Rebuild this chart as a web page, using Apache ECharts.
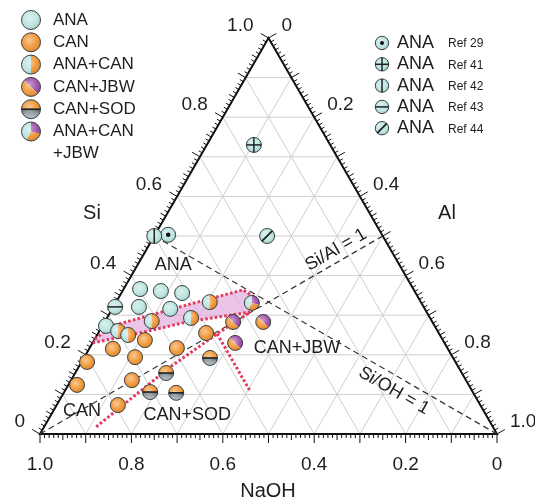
<!DOCTYPE html>
<html>
<head>
<meta charset="utf-8">
<script src="https://cdn.jsdelivr.net/npm/echarts@6/dist/echarts.min.js"></script>
<style>
html,body{margin:0;padding:0;background:#fff;}
#chart{width:535px;height:501px;}
</style>
</head>
<body>
<div id="chart"></div>
<script>
// Compositions are [Si, Al, NaOH] molar fractions.
const anaPts = [[0.366,0.036,0.598],[0.361,0.084,0.555],[0.356,0.133,0.511],[0.321,0.056,0.623],[0.316,0.127,0.557],[0.273,0.008,0.719]];
const canPts = [[0.237,0.111,0.652],[0.215,0.052,0.733],[0.194,0.111,0.695],[0.217,0.191,0.592],[0.182,0.012,0.806],[0.136,0.133,0.731],[0.124,0.019,0.857],[0.073,0.134,0.793],[0.255,0.236,0.509]];
const anaCanPts = [[0.260,0.041,0.699],[0.250,0.068,0.682],[0.285,0.102,0.613],[0.293,0.184,0.523],[0.333,0.205,0.462]];
const canJbwPts = [[0.283,0.281,0.436],[0.283,0.347,0.370],[0.230,0.312,0.458]];
const canSodPts = [[0.154,0.199,0.647],[0.106,0.188,0.706],[0.104,0.246,0.650],[0.192,0.276,0.532]];
const anaCanJbwPts = [[0.331,0.298,0.371]];
const ref29Pts = [[0.503,0.029,0.468]];
const ref41Pts = [[0.730,0.103,0.167]];
const ref42Pts = [[0.500,0.000,0.500]];
const ref43Pts = [[0.321,0.004,0.675]];
const ref44Pts = [[0.500,0.247,0.253]];

// Reference ratio lines
const siAlLine = [[0,0,1],[0.5,0.5,0]];
const siOhLine = [[0.5,0,0.5],[0,1,0]];

// Phase boundaries
const anaCanUpper = [[0.240,0,0.760],[0.273,0.021,0.706],[0.326,0.159,0.515],[0.364,0.262,0.374],[0.343,0.301,0.356]];
const anaCanLower = [[0.230,0,0.770],[0.255,0.091,0.654],[0.283,0.180,0.537],[0.308,0.306,0.386]];
const canSodLine = [[0.018,0.114,0.868],[0.169,0.200,0.631],[0.258,0.265,0.477],[0.308,0.306,0.386]];
const sodJbwLine = [[0.253,0.261,0.486],[0.111,0.403,0.486]];

// Axis tick labels
const tickValues = [0,0.2,0.4,0.6,0.8,1.0];
const tickLabels = ['0','0.2','0.4','0.6','0.8','1.0'];

// Legends
const legendKinds = ['ana','can','anacan','canjbw','cansod','anacanjbw'];
const legendNames = ['ANA','CAN','ANA+CAN','CAN+JBW','CAN+SOD','ANA+CAN'];
const refKinds = ['ref29','ref41','ref42','ref43','ref44'];
const refNames = ['Ref 29','Ref 41','Ref 42','Ref 43','Ref 44'];

// Region labels: [text, composition, rotation]
const regionLabels = [
  ['ANA', [0.427,0.078,0.495], 0],
  ['CAN', [0.058,0.063,0.879], 0],
  ['CAN+SOD', [0.048,0.298,0.654], 0],
  ['CAN+JBW', [0.217,0.454,0.329], 0],
  ['Si/Al = 1', [0.465,0.415,0.120], Math.PI/6],
  ['Si/OH = 1', [0.109,0.720,0.171], -Math.PI/6]
];

const FONT = '"Liberation Sans", Arial, Helvetica, sans-serif';
const H = Math.sqrt(3) / 2;
const tern = p => [p[1] + p[0] / 2, p[0] * H];

const COL = { ana:'#b9e3de', can:'#f1922d', jbw:'#9b48a8' };
const KINDS = ['ana','can','anacan','canjbw','cansod','anacanjbw','ref29','ref41','ref42','ref43','ref44'];

function marker(kind, cx, cy, r) {
  const P = Math.PI;
  const els = [];
  const sec = (a0, a1, fill) => ({type:'sector', shape:{cx, cy, r, r0:0, startAngle:a0, endAngle:a1, clockwise:true}, style:{fill}});
  const ln = (x1, y1, x2, y2, w) => ({type:'line', shape:{x1, y1, x2, y2}, style:{stroke:'#1d2224', lineWidth:w || 1.5}});
  if (kind === 'can') {
    els.push({type:'circle', shape:{cx, cy, r}, style:{fill:COL.can}});
  } else if (kind === 'anacan') {
    els.push(sec(P/2, 3*P/2, COL.ana), sec(-P/2, P/2, COL.can));
  } else if (kind === 'canjbw') {
    els.push(sec(-3*P/4, P/4, COL.jbw), sec(P/4, 5*P/4, COL.can));
  } else if (kind === 'cansod') {
    els.push(sec(P, 2*P, COL.can));
    els.push(sec(0, P, {type:'linear', x:0, y:0, x2:0, y2:1, colorStops:[
      {offset:0, color:'#4f565a'}, {offset:0.4, color:'#8f989d'}, {offset:1, color:'#c9d3d8'}]}));
  } else if (kind === 'anacanjbw') {
    els.push(sec(-P/2, P/12, COL.jbw), sec(P/12, 2*P/3, COL.can), sec(2*P/3, 3*P/2, COL.ana));
  } else {
    els.push({type:'circle', shape:{cx, cy, r}, style:{fill:COL.ana}});
  }
  // shading and outline
  els.push({type:'circle', shape:{cx, cy, r}, style:{
    fill:{type:'radial', x:0.42, y:0.4, r:0.62, colorStops:[
      {offset:0, color:'rgba(255,255,255,0.5)'}, {offset:0.6, color:'rgba(255,255,255,0.08)'}, {offset:1, color:'rgba(0,0,0,0.14)'}]},
    stroke:'#3a4244', lineWidth:1}});
  if (kind === 'cansod') els.push(ln(cx - r, cy, cx + r, cy, 1.6));
  if (kind === 'ref29') els.push({type:'circle', shape:{cx, cy, r:r*0.3}, style:{fill:'#111'}});
  if (kind === 'ref41') els.push(ln(cx - r, cy, cx + r, cy), ln(cx, cy - r, cx, cy + r));
  if (kind === 'ref42') els.push(ln(cx, cy - r, cx, cy + r));
  if (kind === 'ref43') els.push(ln(cx - r, cy, cx + r, cy));
  if (kind === 'ref44') { const d = r * 0.72; els.push(ln(cx - d, cy + d, cx + d, cy - d, 1.8)); }
  return els;
}

function txt(text, x, y, size, align, opts) {
  return Object.assign({type:'text', x, y, style:{text, fill:'#1e1e1e', fontSize:size, fontFamily:FONT,
    align:align || 'center', verticalAlign:'middle', textAlign:align || 'center', textVerticalAlign:'middle'}}, opts || {});
}

const pointData = [];
[[anaPts,'ana'],[canPts,'can'],[anaCanPts,'anacan'],[canJbwPts,'canjbw'],[canSodPts,'cansod'],[anaCanJbwPts,'anacanjbw'],
 [ref29Pts,'ref29'],[ref41Pts,'ref41'],[ref42Pts,'ref42'],[ref43Pts,'ref43'],[ref44Pts,'ref44']]
  .forEach(([arr, k]) => arr.forEach(p => pointData.push(tern(p).concat([KINDS.indexOf(k)]))));

// Triangle frame, grid, ticks and tick labels
function renderFrame(params, api) {
  const c = p => api.coord(tern(p));
  const kids = [];
  for (let i = 1; i < 10; i++) {
    const v = i / 10;
    const segs = [[[v,0,1-v],[v,1-v,0]], [[0,v,1-v],[1-v,v,0]], [[0,1-v,v],[1-v,0,v]]];
    segs.forEach(s => { const a = c(s[0]), b = c(s[1]);
      kids.push({type:'line', shape:{x1:a[0], y1:a[1], x2:b[0], y2:b[1]}, style:{stroke:'#cfcfcf', lineWidth:1}}); });
  }
  const A = c([0,0,1]), B = c([0,1,0]), C = c([1,0,0]);
  kids.push({type:'polygon', shape:{points:[A,B,C]}, style:{fill:null, stroke:'#111', lineWidth:2}});
  const axes = [
    {pt: v => c([v, 0, 1-v]), n:[-0.866,-0.5]},
    {pt: v => c([1-v, v, 0]), n:[0.866,-0.5]},
    {pt: v => c([0, 1-v, v]), n:[0,1]}
  ];
  axes.forEach(ax => {
    for (let i = 0; i <= 100; i++) {
      const p = ax.pt(i / 100);
      const L = i % 10 === 0 ? 9 : (i % 5 === 0 ? 6 : 4);
      kids.push({type:'line', shape:{x1:p[0], y1:p[1], x2:p[0] + ax.n[0]*L, y2:p[1] + ax.n[1]*L}, style:{stroke:'#111', lineWidth:1}});
    }
  });
  tickValues.forEach((v, i) => {
    const pl = axes[0].pt(v), pr = axes[1].pt(v), pb = axes[2].pt(v);
    kids.push(txt(tickLabels[i], pl[0] - 15, pl[1] - 12, 19, 'right'));
    kids.push(txt(tickLabels[i], pr[0] + 13, pr[1] - 12, 19, 'left'));
    kids.push(txt(tickLabels[i], pb[0], pb[1] + 31, 19, 'center'));
  });
  return {type:'group', children:kids};
}

function renderBand(params, api) {
  const pts = anaCanUpper.concat(anaCanLower.slice().reverse()).map(p => api.coord(tern(p)));
  return {type:'polygon', shape:{points:pts}, style:{fill:'rgba(226,172,222,0.7)'}};
}

function renderPoint(params, api) {
  const p = api.coord([api.value(0), api.value(1)]);
  return {type:'group', children:marker(KINDS[api.value(2)], p[0], p[1], 7.5)};
}

function renderLabel(params, api) {
  const lab = regionLabels[params.dataIndex];
  const p = api.coord([api.value(0), api.value(1)]);
  return txt(lab[0], p[0], p[1], 18, 'center', {rotation: lab[2]});
}

const dashed = {color:'#3a3a3a', width:1.3, type:[6,4]};
const dotted = {color:'#e23a5c', width:3, type:[2.6,2.2]};
const lineSeries = (data, style, z) => ({type:'line', data:data.map(tern), symbol:'none', silent:true, z, lineStyle:style, animation:false});

// Legend blocks
const graphics = [];
legendKinds.forEach((k, i) => {
  const y = 20 + i * 22.3;
  graphics.push({type:'group', children:marker(k, 31, y, 9.5)});
  graphics.push(txt(legendNames[i], 53, y, 17, 'left'));
});
graphics.push(txt('+JBW', 53, 20 + 6 * 22.3, 17, 'left'));
refKinds.forEach((k, i) => {
  const y = 43 + i * 21.3;
  graphics.push({type:'group', children:marker(k, 382, y, 6.7)});
  graphics.push(txt('ANA', 397, y, 18, 'left'));
  graphics.push(txt(refNames[i], 448, y + 1, 12, 'left'));
});
graphics.push(txt('Si', 92, 213, 20, 'center'));
graphics.push(txt('Al', 447, 213, 20, 'center'));
graphics.push(txt('NaOH', 268, 491, 20, 'center'));

const chart = echarts.init(document.getElementById('chart'), null, {renderer:'canvas'});
chart.setOption({
  animation:false,
  backgroundColor:'#fff',
  grid:{left:40, top:38, width:457, height:396},
  xAxis:{type:'value', min:0, max:1, show:false},
  yAxis:{type:'value', min:0, max:H, show:false},
  graphic:graphics,
  series:[
    {type:'custom', renderItem:renderFrame, data:[[0,0]], z:1, silent:true, clip:false},
    {type:'custom', renderItem:renderBand, data:[[0,0]], z:2, silent:true, clip:false},
    lineSeries(siAlLine, dashed, 3),
    lineSeries(siOhLine, dashed, 3),
    lineSeries(anaCanUpper, dotted, 4),
    lineSeries(anaCanLower, dotted, 4),
    lineSeries(canSodLine, dotted, 4),
    lineSeries(sodJbwLine, dotted, 4),
    {type:'custom', renderItem:renderLabel, data:regionLabels.map(l => tern(l[1])), z:5, silent:true, clip:false},
    {type:'custom', renderItem:renderPoint, data:pointData, z:6, silent:true, clip:false}
  ]
});
</script>
</body>
</html>
